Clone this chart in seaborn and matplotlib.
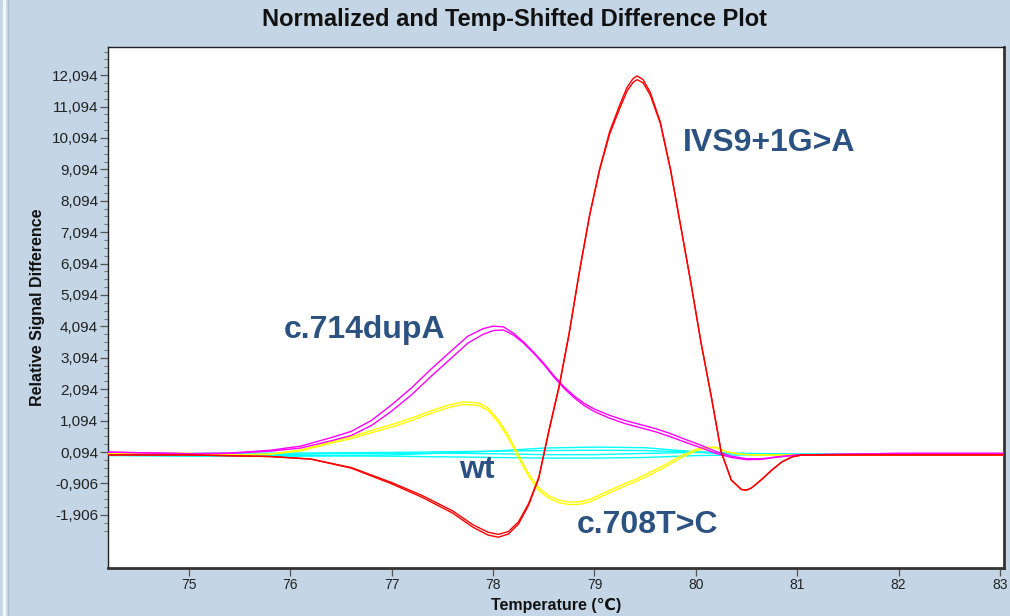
import numpy as np
import pandas as pd
import matplotlib
matplotlib.use("Agg")
import matplotlib.pyplot as plt
from matplotlib.ticker import FixedLocator, FixedFormatter
from matplotlib.lines import Line2D
import seaborn as sns

# IVS9+1G>A: temperatures (°C) and two replicate traces
temp_ivs = [74.2, 75.0, 75.8, 76.2, 76.6, 77.0, 77.3, 77.6, 77.8, 77.95,
            78.05, 78.15, 78.25, 78.35, 78.45, 78.55, 78.65, 78.75, 78.85, 78.95,
            79.05, 79.15, 79.25, 79.32, 79.38, 79.42, 79.48, 79.55, 79.65, 79.75,
            79.85, 79.95, 80.05, 80.15, 80.25, 80.35, 80.45, 80.5, 80.55, 80.65,
            80.75, 80.85, 80.95, 81.05, 82.0, 83.04]
ivs_a = [0.00, 0.00, -0.05, -0.13, -0.42, -0.92, -1.35, -1.85, -2.30, -2.55,
         -2.62, -2.52, -2.20, -1.60, -0.75, 0.75, 2.15, 3.85, 5.80, 7.60,
         9.10, 10.30, 11.15, 11.70, 11.98, 12.07, 11.95, 11.55, 10.60, 9.10,
         7.30, 5.50, 3.60, 1.90, 0.10, -0.80, -1.10, -1.12, -1.05, -0.78,
         -0.48, -0.22, -0.06, 0.00, 0.00, 0.00]
ivs_b = [0.00, 0.00, -0.05, -0.13, -0.40, -0.88, -1.29, -1.78, -2.22, -2.46,
         -2.53, -2.44, -2.13, -1.55, -0.72, 0.78, 2.18, 3.88, 5.82, 7.60,
         9.06, 10.22, 11.04, 11.58, 11.86, 11.95, 11.85, 11.46, 10.55, 9.08,
         7.30, 5.50, 3.60, 1.90, 0.10, -0.80, -1.10, -1.12, -1.05, -0.78,
         -0.48, -0.22, -0.06, 0.00, 0.00, 0.00]

# c.714dupA: temperatures and two replicate traces
temp_dup = [74.2, 75.0, 75.4, 75.8, 76.1, 76.4, 76.6, 76.8, 77.0, 77.2,
            77.4, 77.6, 77.75, 77.9, 78.0, 78.1, 78.2, 78.3, 78.4, 78.5,
            78.6, 78.7, 78.8, 78.9, 79.0, 79.15, 79.3, 79.45, 79.6, 79.75,
            79.9, 80.05, 80.2, 80.35, 80.5, 80.65, 80.8, 81.0, 82.0, 83.04]
dup_a = [0.09, 0.04, 0.06, 0.15, 0.28, 0.55, 0.75, 1.10, 1.60, 2.15,
         2.77, 3.35, 3.78, 4.02, 4.10, 4.08, 3.88, 3.60, 3.27, 2.92,
         2.52, 2.17, 1.88, 1.64, 1.46, 1.26, 1.10, 0.97, 0.84, 0.68,
         0.49, 0.31, 0.11, -0.04, -0.12, -0.12, -0.06, 0.00, 0.05, 0.05]
dup_b = [0.09, 0.04, 0.05, 0.12, 0.22, 0.45, 0.62, 0.94, 1.40, 1.93,
         2.54, 3.12, 3.56, 3.84, 3.96, 3.98, 3.82, 3.56, 3.24, 2.88,
         2.48, 2.12, 1.82, 1.57, 1.38, 1.17, 1.00, 0.87, 0.74, 0.58,
         0.40, 0.23, 0.05, -0.08, -0.15, -0.14, -0.07, 0.00, 0.05, 0.05]

# c.708T>C: temperatures and two replicate traces
temp_708 = [74.2, 75.0, 75.4, 75.8, 76.1, 76.4, 76.6, 76.8, 77.0, 77.2,
            77.4, 77.55, 77.7, 77.85, 77.95, 78.05, 78.15, 78.25, 78.35, 78.45,
            78.55, 78.65, 78.75, 78.85, 78.95, 79.1, 79.25, 79.4, 79.55, 79.7,
            79.85, 80.0, 80.1, 80.2, 80.3, 80.45, 80.6, 81.0, 82.0, 83.04]
t708_a = [0.05, 0.05, 0.00, 0.03, 0.16, 0.42, 0.58, 0.78, 0.97, 1.18,
          1.42, 1.58, 1.69, 1.66, 1.50, 1.12, 0.62, 0.00, -0.60, -1.05,
          -1.30, -1.44, -1.50, -1.49, -1.42, -1.20, -0.98, -0.78, -0.55, -0.30,
          -0.03, 0.18, 0.25, 0.25, 0.10, 0.02, 0.00, 0.00, 0.00, 0.00]
t708_b = [0.05, 0.05, 0.00, 0.02, 0.13, 0.37, 0.52, 0.71, 0.89, 1.10,
          1.34, 1.50, 1.61, 1.58, 1.42, 1.04, 0.54, -0.08, -0.68, -1.13,
          -1.38, -1.52, -1.58, -1.57, -1.50, -1.28, -1.06, -0.86, -0.63, -0.38,
          -0.10, 0.13, 0.22, 0.23, 0.10, 0.02, 0.00, 0.00, 0.00, 0.00]

# wild type: temperatures and four replicate traces
temp_wt = [74.2, 75.0, 76.0, 76.5, 77.0, 77.5, 78.0, 78.5, 79.0, 79.5,
           80.0, 80.5, 81.0, 81.5, 82.0, 83.04]
wt_1 = [-0.02, -0.04, -0.04, -0.02, 0.00, 0.06, 0.12, 0.22, 0.25, 0.23,
        0.10, 0.04, 0.02, 0.02, 0.02, 0.02]
wt_2 = [0.06, 0.05, 0.06, 0.07, 0.08, 0.10, 0.12, 0.14, 0.15, 0.14,
        0.09, 0.05, 0.03, 0.03, 0.03, 0.03]
wt_3 = [0.03, 0.01, -0.02, -0.03, -0.04, -0.06, -0.08, -0.10, -0.10, -0.08,
        -0.02, 0.00, 0.00, 0.00, 0.00, 0.00]
wt_4 = [0.00, 0.00, 0.02, 0.04, 0.05, 0.06, 0.04, 0.01, 0.01, 0.05,
        0.08, 0.03, 0.01, 0.01, 0.01, 0.01]

# Y tick values and their labels (comma decimal)
y_ticks = [-1.906, -0.906, 0.094, 1.094, 2.094, 3.094, 4.094, 5.094,
           6.094, 7.094, 8.094, 9.094, 10.094, 11.094, 12.094]
y_tick_labels = ["-1,906", "-0,906", "0,094", "1,094", "2,094", "3,094",
                 "4,094", "5,094", "6,094", "7,094", "8,094", "9,094",
                 "10,094", "11,094", "12,094"]
x_ticks = [75, 76, 77, 78, 79, 80, 81, 82, 83]

# Curve labels: text, x, y
annotations = [("IVS9+1G>A", 79.87, 9.93),
               ("c.714dupA", 75.93, 3.98),
               ("wt", 77.66, -0.48),
               ("c.708T>C", 78.83, -2.23)]

traces = [(temp_wt, wt_1, "#00FFFF"), (temp_wt, wt_2, "#00FFFF"),
          (temp_wt, wt_3, "#00FFFF"), (temp_wt, wt_4, "#00FFFF"),
          (temp_708, t708_a, "#FFFF00"), (temp_708, t708_b, "#FFFF00"),
          (temp_dup, dup_a, "#FF00FF"), (temp_dup, dup_b, "#FF00FF"),
          (temp_ivs, ivs_a, "#FF0000"), (temp_ivs, ivs_b, "#FF0000")]

sns.set_theme(style="white")
plt.rcParams["font.family"] = ["Liberation Sans", "DejaVu Sans"]

bg = "#C4D5E5"
fig = plt.figure(figsize=(10.10, 6.16), dpi=100, facecolor=bg)
ax = fig.add_axes([0.1069, 0.0779, 0.8871, 0.8458])
ax.set_facecolor("white")

for i, (temps, vals, col) in enumerate(traces):
    df = pd.DataFrame({"Temperature": temps, "Signal": vals})
    sns.lineplot(data=df, x="Temperature", y="Signal", ax=ax, color=col,
                 linewidth=1.0, estimator=None, sort=False, zorder=2 + i)

ax.set_xlim(74.2, 83.04)
ax.set_ylim(-3.60, 12.99)

ax.yaxis.set_major_locator(FixedLocator(y_ticks))
ax.yaxis.set_major_formatter(FixedFormatter(y_tick_labels))
minor_y = [t + d for t in [-2.906] + y_ticks for d in (0.25, 0.5, 0.75)]
minor_y = [m for m in minor_y if -2.45 < m < 12.9]
ax.yaxis.set_minor_locator(FixedLocator(minor_y))
ax.xaxis.set_major_locator(FixedLocator(x_ticks))

ax.tick_params(axis="y", which="major", direction="out", length=6, width=0.9,
               color="#555555", pad=1, labelsize=11, labelcolor="#222222", left=True)
ax.tick_params(axis="y", which="minor", direction="out", length=3, width=0.8,
               color="#777777", left=True)
ax.tick_params(axis="x", which="major", direction="out", length=6, width=0.9,
               color="#555555", pad=1.5, labelsize=10, labelcolor="#222222", bottom=True)

for side in ("top", "left"):
    ax.spines[side].set_color("#222222")
    ax.spines[side].set_linewidth(1.0)
for side in ("right", "bottom"):
    ax.spines[side].set_color("#333333")
    ax.spines[side].set_linewidth(2.0)

ax.set_xlabel("Temperature (℃)", fontsize=11.5, fontweight="bold",
              labelpad=4, color="#111111")
ax.set_ylabel("Relative Signal Difference", fontsize=11.5, fontweight="bold",
              labelpad=5, color="#111111")

fig.text(0.509, 0.969, "Normalized and Temp-Shifted Difference Plot",
         ha="center", va="center", fontsize=17, fontweight="bold",
         color="#111111")

for text, tx, ty in annotations:
    ax.text(tx, ty, text, ha="left", va="center", fontsize=23,
            fontweight="bold", color="#2C5282", zorder=20)

# window edge on the left
fig.add_artist(Line2D([0.004, 0.004], [0, 1], transform=fig.transFigure,
                      color="#F2F6FA", linewidth=2.5))
fig.add_artist(Line2D([0.0075, 0.0075], [0, 1], transform=fig.transFigure,
                      color="#A9BCCE", linewidth=0.8))

fig.savefig("out.png", dpi=100, facecolor=bg)
